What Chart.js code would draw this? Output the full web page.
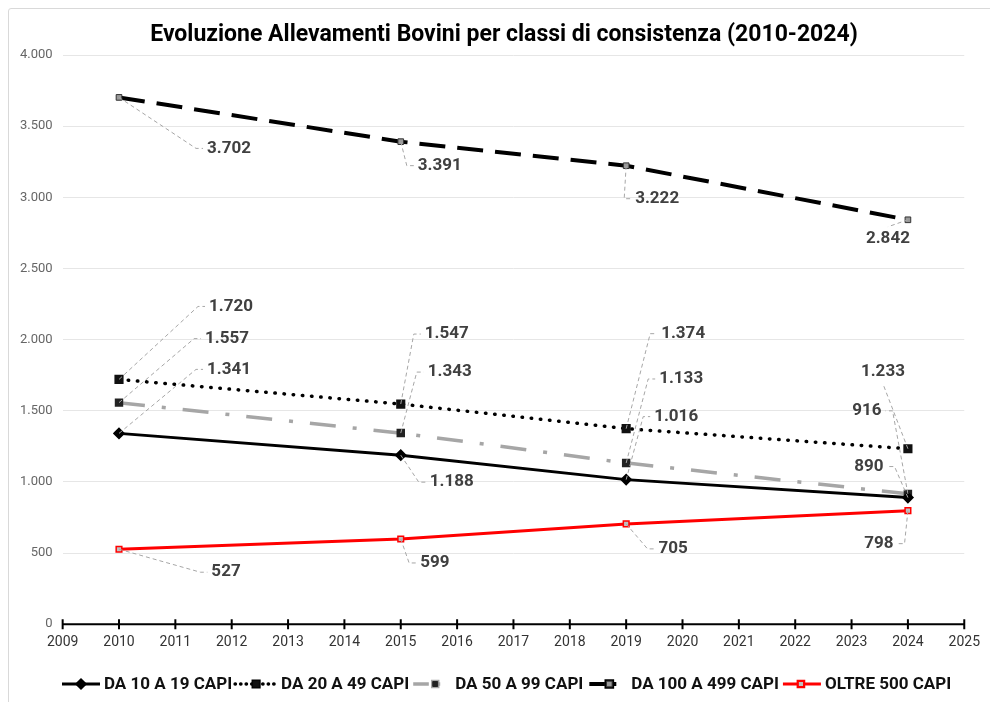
<!DOCTYPE html>
<html>
<head>
<meta charset="utf-8">
<script src="https://cdn.jsdelivr.net/npm/chart.js@4"></script>
<style>
  html, body { margin: 0; padding: 0; background: #fff; }
  #wrap { position: relative; width: 990px; height: 702px; }
  #frame { position: absolute; left: 8px; top: 8px; width: 990px; height: 710px;
           border: 1px solid #d9d9d9; border-radius: 3px; }
  canvas { position: absolute; left: 0; top: 0; }
</style>
</head>
<body>
<div id="wrap">
  <div id="frame"></div>
  <canvas id="lineChart" width="990" height="702"></canvas>
</div>
<script>
// data
const years = [2010, 2015, 2019, 2024];
const da10a19 = [1341, 1188, 1016, 890];
const da20a49 = [1720, 1547, 1374, 1233];
const da50a99 = [1557, 1343, 1133, 916];
const da100a499 = [3702, 3391, 3222, 2842];
const oltre500 = [527, 599, 705, 798];
const seriesNames = ['DA 10 A 19 CAPI', 'DA 20 A 49 CAPI', 'DA 50 A 99 CAPI', 'DA 100 A 499 CAPI', 'OLTRE 500 CAPI'];
const chartTitle = 'Evoluzione Allevamenti Bovini per classi di consistenza (2010-2024)';

// where each data label sits, px from its point, and where its leader attaches (l/r/t/b)
const labelOffsets = [
  [[110, -64, 'l'], [51, 27, 'l'], [50, -63, 'l'], [-39, -31, 'r']],
  [[112, -73, 'l'], [46, -70, 'l'], [57, -95, 'l'], [-25, -77, 'b']],
  [[108, -64, 'l'], [49, -61, 'l'], [55, -84, 'l'], [-41, -83, 'r']],
  [[110, 51, 'l'], [39, 24, 'l'], [31, 33, 'l'], [-20, 19, 't']],
  [[107, 23, 'l'], [34, 24, 'l'], [47, 25, 'l'], [-29, 33, 'r']]
];

function fmt(v) {
  return String(Math.round(v)).replace(/\B(?=(\d{3})+(?!\d))/g, '.');
}

function pts(arr) {
  return years.map((y, i) => ({ x: y, y: arr[i] }));
}

const datasets = [
  { label: seriesNames[0], data: pts(da10a19), borderColor: '#000', borderWidth: 3,
    pointStyle: 'rectRot', pointRadius: 4, pointBackgroundColor: '#000', pointBorderColor: '#000' },
  { label: seriesNames[1], data: pts(da20a49), borderColor: '#000', borderWidth: 3.5,
    borderDash: [0.5, 8.7], borderCapStyle: 'round',
    pointStyle: 'rect', pointRadius: 4, pointBackgroundColor: '#111', pointBorderColor: '#111' },
  { label: seriesNames[2], data: pts(da50a99), borderColor: '#a6a6a6', borderWidth: 3.5,
    borderDash: [26, 17, 4, 17],
    pointStyle: 'rect', pointRadius: 3.5, pointBackgroundColor: '#222', pointBorderColor: '#222' },
  { label: seriesNames[3], data: pts(da100a499), borderColor: '#000', borderWidth: 4,
    borderDash: [26, 12],
    pointStyle: 'rect', pointRadius: 4, pointBackgroundColor: '#999', pointBorderColor: '#333', pointBorderWidth: 1 },
  { label: seriesNames[4], data: pts(oltre500), borderColor: '#ff0000', borderWidth: 3,
    pointStyle: 'rect', pointRadius: 4, pointBackgroundColor: '#bfbfbf', pointBorderColor: '#ff0000', pointBorderWidth: 1.5 }
];

// title, x axis line with ticks crossing it
const axisPlugin = {
  id: 'axisPlugin',
  afterDraw(chart) {
    const ctx = chart.ctx;
    ctx.save();
    ctx.font = 'bold 23px Roboto';
    ctx.fillStyle = '#000';
    ctx.textAlign = 'center';
    ctx.textBaseline = 'middle';
    ctx.fillText(chartTitle, 504, 35);
    ctx.restore();
  },
  afterDatasetsDraw(chart) {
    const ctx = chart.ctx, x = chart.scales.x, y = chart.scales.y;
    const y0 = y.getPixelForValue(0);
    ctx.save();
    ctx.strokeStyle = '#000';
    ctx.lineWidth = 2;
    ctx.beginPath();
    ctx.moveTo(x.getPixelForValue(2009), y0);
    ctx.lineTo(x.getPixelForValue(2025), y0);
    for (let yr = 2009; yr <= 2025; yr++) {
      const px = x.getPixelForValue(yr);
      ctx.moveTo(px, y0 - 5);
      ctx.lineTo(px, y0 + 5);
    }
    ctx.stroke();
    ctx.restore();
  }
};

// data labels with dashed leader lines
const labelPlugin = {
  id: 'labelPlugin',
  afterDatasetsDraw(chart) {
    const ctx = chart.ctx;
    ctx.save();
    ctx.font = 'bold 17px Roboto';
    ctx.textBaseline = 'middle';
    ctx.textAlign = 'center';
    chart.data.datasets.forEach((ds, di) => {
      chart.getDatasetMeta(di).data.forEach((pt, i) => {
        const [dx, dy, anchor] = labelOffsets[di][i];
        const cx = pt.x + dx, cy = pt.y + dy;
        const txt = fmt(ds.data[i].y);
        const w = ctx.measureText(txt).width;
        ctx.strokeStyle = '#a6a6a6';
        ctx.lineWidth = 1;
        ctx.setLineDash([4, 3]);
        ctx.beginPath();
        ctx.moveTo(pt.x, pt.y);
        if (anchor === 'l') {
          const ex = cx - w / 2 - 4;
          ctx.lineTo(ex - 7, cy);
          ctx.lineTo(ex, cy);
        } else if (anchor === 'r') {
          const ex = cx + w / 2 + 4;
          ctx.lineTo(ex + 7, cy);
          ctx.lineTo(ex, cy);
        } else if (anchor === 'b') {
          ctx.lineTo(cx, cy + 12);
        } else {
          ctx.lineTo(cx, cy - 12);
        }
        ctx.stroke();
        ctx.setLineDash([]);
        ctx.fillStyle = '#404040';
        ctx.fillText(txt, cx, cy);
      });
    });
    ctx.restore();
  }
};

// legend: line sample + marker + text
const legendItems = [
  { lineLen: 38, mark: 19, gapA: 4, gapB: 3 },
  { lineLen: 42, mark: 21, gapA: 4, gapB: 4 },
  { lineLen: 27, mark: 22, gapA: 15, gapB: 6 },
  { lineLen: 27, mark: 20, gapA: 15, gapB: 4 },
  { lineLen: 38, mark: 18, gapA: 4, gapB: 4 }
];
const legendPlugin = {
  id: 'legendPlugin',
  afterDraw(chart) {
    const ctx = chart.ctx;
    const ly = 684;
    let x = 62;
    ctx.save();
    ctx.font = 'bold 17px Roboto';
    ctx.textBaseline = 'middle';
    ctx.textAlign = 'left';
    chart.data.datasets.forEach((ds, di) => {
      const it = legendItems[di];
      ctx.strokeStyle = ds.borderColor;
      ctx.lineWidth = ds.borderWidth;
      ctx.lineCap = ds.borderCapStyle || 'butt';
      ctx.setLineDash(ds.borderDash ? ds.borderDash.map(v => v * 0.6) : []);
      ctx.beginPath();
      ctx.moveTo(x, ly);
      ctx.lineTo(x + it.lineLen, ly);
      ctx.stroke();
      ctx.setLineDash([]);
      ctx.lineCap = 'butt';
      Chart.helpers.drawPoint(ctx, {
        pointStyle: ds.pointStyle, radius: Math.min(ds.pointRadius, 4), rotation: 0,
        borderWidth: ds.pointBorderWidth || 1
      }, x + it.mark, ly);
      ctx.fillStyle = ds.pointBackgroundColor;
      ctx.strokeStyle = ds.pointBorderColor;
      ctx.lineWidth = ds.pointBorderWidth || 1;
      ctx.fill();
      ctx.stroke();
      x += it.lineLen + it.gapA;
      ctx.fillStyle = '#111';
      ctx.fillText(ds.label, x, ly + 1);
      x += ctx.measureText(ds.label).width + it.gapB;
    });
    ctx.restore();
  }
};

new Chart(document.getElementById('lineChart'), {
  type: 'line',
  data: { datasets: datasets },
  plugins: [axisPlugin, labelPlugin, legendPlugin],
  options: {
    responsive: false,
    animation: false,
    layout: { padding: { left: 10, right: 14, top: 55, bottom: 41 } },
    elements: { line: { tension: 0 } },
    plugins: {
      title: { display: false },
      legend: { display: false },
      tooltip: { enabled: false }
    },
    scales: {
      x: {
        type: 'linear',
        min: 2009,
        max: 2025,
        ticks: {
          stepSize: 1,
          color: '#333',
          font: { family: 'Roboto', size: 14 },
          padding: 10,
          callback: v => String(v)
        },
        grid: { display: false, drawTicks: false },
        border: { display: false }
      },
      y: {
        min: 0,
        max: 4000,
        ticks: {
          stepSize: 500,
          color: '#666',
          font: { family: 'Roboto', size: 13 },
          padding: 10,
          callback: v => fmt(v)
        },
        grid: { color: '#e6e6e6', lineWidth: 1, drawTicks: false },
        border: { display: false }
      }
    }
  }
});
</script>
</body>
</html>
